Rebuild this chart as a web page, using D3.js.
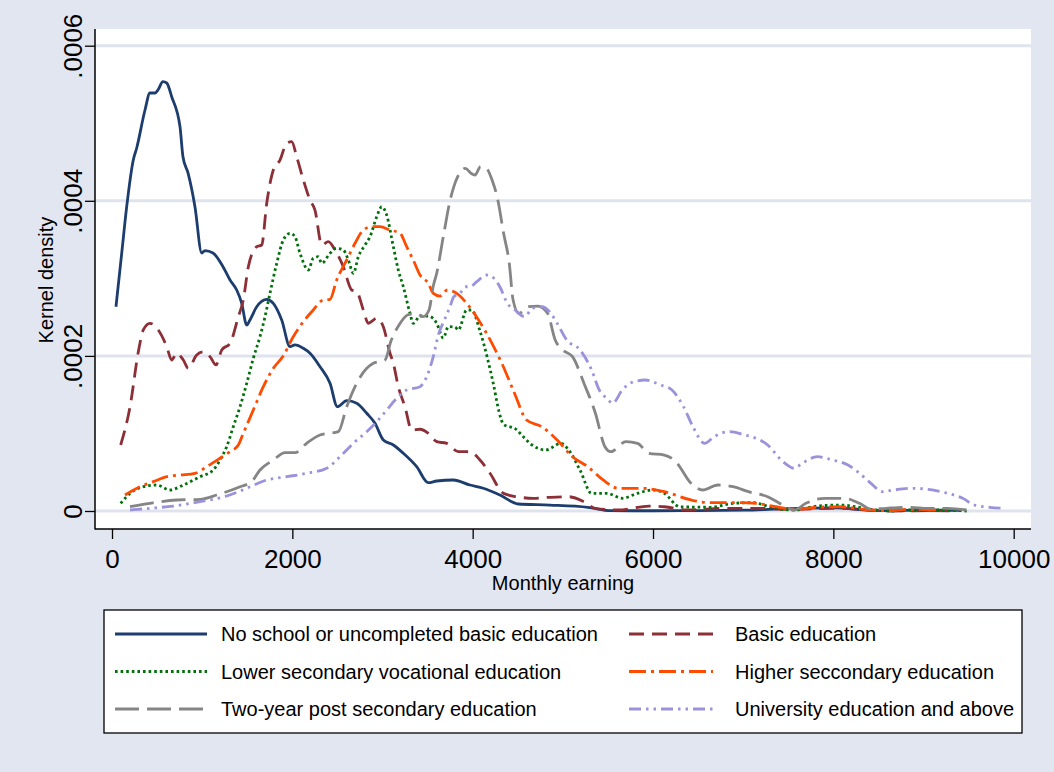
<!DOCTYPE html>
<html><head><meta charset="utf-8">
<script src="https://cdn.jsdelivr.net/npm/d3@7"></script>
<style>html,body{margin:0;padding:0;background:#e2e6f0;}svg{display:block;}</style>
</head><body>
<svg id="c" width="1054" height="772"></svg>
<script>
const xTicks = [0, 2000, 4000, 6000, 8000, 10000];
const xTickLabels = ["0", "2000", "4000", "6000", "8000", "10000"];
const yTicks = [0, 0.0002, 0.0004, 0.0006];
const yTickLabels = ["0", ".0002", ".0004", ".0006"];
const seriesNames = [
  "No school or uncompleted basic education",
  "Basic education",
  "Lower secondary vocational education",
  "Higher seccondary education",
  "Two-year post secondary education",
  "University education and above"
];

const noSchoolX = [44,108,163,236,274,366,421,477,510,565,607,662,754,787,843,920,995,1031,1120,1231,1309,1383,1438,1494,1530,1605,1716,1789,1882,1974,2029,2122,2196,2307,2418,2499,2603,2714,2825,2917,3009,3120,3231,3379,3508,3601,3785,3970,4118,4303,4506,4857,5277,5531,6000,6500,7000,7500,8000,8500,9000,9420];
const noSchoolY = [0.0002634,0.0003327,0.0003924,0.0004526,0.0004681,0.0005171,0.000539,0.000539,0.0005429,0.0005536,0.0005519,0.0005342,0.0004956,0.0004569,0.0004359,0.0003924,0.0003327,0.0003357,0.0003327,0.000315,0.0002979,0.000285,0.0002682,0.0002398,0.0002463,0.0002634,0.000273,0.0002678,0.0002463,0.0002119,0.0002141,0.0002098,0.0002034,0.0001861,0.0001647,0.0001345,0.0001422,0.0001389,0.000126,0.0001131,0.0000916,0.0000851,0.0000744,0.0000571,0.0000365,0.0000387,0.00004,0.0000335,0.0000293,0.0000206,0.000009,0.0000077,0.0000048,0.0000004,0.0000003,0.0000005,0.000001,0.000003,0.000004,0.0000005,0.000001,0.000001];

const basicX = [96,200,292,347,421,513,607,662,718,791,846,939,1013,1087,1153,1217,1309,1401,1456,1512,1605,1660,1716,1789,1863,1937,1993,2048,2122,2196,2251,2326,2399,2473,2565,2658,2714,2787,2842,2936,3009,3083,3120,3175,3249,3324,3416,3508,3601,3712,3840,3970,4081,4192,4340,4488,4672,4857,5064,5234,5361,5616,5955,6125,6380,6804,7142,7568,7992,8417,8628,9054,9300];
const basicY = [0.0000851,0.0001345,0.0002054,0.0002334,0.000242,0.0002334,0.0002119,0.0001947,0.0002034,0.0001947,0.000184,0.0002012,0.0002054,0.000199,0.0001883,0.0002076,0.0002162,0.0002506,0.0002721,0.000315,0.0003408,0.000343,0.0003968,0.0004397,0.0004526,0.0004741,0.0004763,0.0004569,0.0004268,0.000401,0.0003881,0.000343,0.0003473,0.0003366,0.000315,0.000285,0.0002828,0.0002592,0.000242,0.0002485,0.0002377,0.0002034,0.0001905,0.0001603,0.0001345,0.0001044,0.0001054,0.0001002,0.0000894,0.0000873,0.0000765,0.0000765,0.0000658,0.0000486,0.0000228,0.0000184,0.0000164,0.0000177,0.0000184,0.000012,0.0000035,0.0000013,0.0000064,0.0000055,0.0000013,0.0000035,0.0000035,0.0000022,0.0000035,0.0000013,0,0.0000004,0.0000002];

const vocX = [96,200,347,496,643,791,976,1123,1198,1272,1345,1420,1494,1567,1641,1697,1752,1827,1900,1974,2029,2085,2177,2232,2288,2326,2418,2492,2565,2621,2677,2732,2806,2861,2936,2991,3046,3120,3175,3231,3305,3341,3416,3508,3601,3674,3730,3804,3840,3934,3989,4081,4164,4232,4292,4342,4480,4561,4658,4813,4979,5064,5190,5319,5488,5658,5828,5997,6125,6295,6634,6889,7101,7356,7568,7823,8078,8248,8417,8628,8841,9180,9478];
const vocY = [0.0000099,0.0000228,0.0000313,0.0000335,0.0000271,0.0000335,0.0000442,0.0000529,0.0000658,0.0000829,0.0001087,0.0001345,0.0001647,0.0001969,0.0002248,0.0002506,0.0002807,0.0003194,0.0003495,0.0003581,0.0003537,0.0003323,0.0003108,0.0003259,0.0003279,0.0003194,0.0003323,0.0003387,0.0003366,0.0003237,0.0003065,0.0003279,0.000343,0.0003537,0.0003795,0.0003924,0.0003817,0.0003408,0.0003108,0.0002892,0.0002549,0.000242,0.0002514,0.0002514,0.000242,0.0002231,0.0002377,0.0002373,0.0002334,0.0002592,0.0002592,0.0002321,0.0001969,0.0001625,0.000128,0.0001118,0.0001054,0.0000958,0.0000851,0.0000787,0.0000873,0.0000787,0.0000529,0.0000228,0.0000228,0.0000164,0.0000228,0.0000271,0.0000228,0.0000055,0.0000048,0.0000099,0.0000107,0.0000035,0.0000013,0.0000064,0.0000077,0.0000055,0.0000022,0,0.0000013,0.0000013,0];

const higherX = [144,311,458,607,754,920,1050,1198,1309,1401,1456,1567,1678,1789,1900,2002,2122,2232,2343,2418,2492,2603,2695,2787,2880,2972,3083,3194,3268,3341,3416,3508,3563,3638,3721,3823,3934,4065,4214,4323,4458,4598,4766,4937,5107,5277,5446,5616,5871,6125,6422,6634,6974,7144,7356,7568,7823,8078,8333,8588,8841,9180];
const higherY = [0.0000206,0.0000313,0.0000378,0.0000442,0.0000464,0.0000486,0.0000571,0.000068,0.0000765,0.0000851,0.0001002,0.0001302,0.0001603,0.000184,0.0002001,0.0002231,0.0002441,0.0002592,0.0002721,0.000273,0.0002979,0.0003237,0.0003452,0.0003623,0.0003666,0.0003666,0.0003623,0.0003581,0.0003408,0.0003237,0.0003043,0.0002936,0.0002807,0.0002772,0.000285,0.0002807,0.0002678,0.0002463,0.0002162,0.0001905,0.0001535,0.0001173,0.0001087,0.0000916,0.00007,0.0000571,0.00004,0.0000293,0.0000293,0.0000249,0.0000142,0.0000107,0.0000107,0.0000099,0.0000055,0.0000022,0.0000048,0.0000055,0.0000022,0.0000004,0.0000022,0.0000013];

const twoYearX = [200,421,718,976,1161,1420,1549,1641,1789,1919,2029,2159,2307,2510,2603,2714,2825,2898,3028,3094,3183,3277,3369,3452,3516,3563,3601,3674,3748,3791,3834,3918,3981,4025,4088,4152,4215,4279,4343,4406,4448,4512,4619,4724,4831,4915,5000,5107,5234,5361,5467,5531,5700,5828,5955,6125,6253,6422,6550,6720,6889,7059,7271,7441,7568,7695,7907,8120,8290,8417,8588,8841,9054,9266,9478];
const twoYearY = [0.0000055,0.0000099,0.0000142,0.0000151,0.0000206,0.0000313,0.0000378,0.0000529,0.0000658,0.0000752,0.0000752,0.0000873,0.000098,0.0001023,0.0001345,0.0001647,0.000184,0.0001905,0.0001947,0.0002192,0.0002398,0.0002527,0.0002549,0.0002506,0.0002592,0.0002901,0.0003065,0.0003537,0.0003997,0.0004182,0.0004311,0.0004419,0.0004355,0.0004333,0.000444,0.0004419,0.0004268,0.000401,0.0003581,0.0003194,0.0002721,0.0002549,0.0002634,0.0002643,0.0002549,0.0002205,0.0002076,0.000199,0.0001647,0.000126,0.0000829,0.0000765,0.0000894,0.0000873,0.0000744,0.0000722,0.0000636,0.0000357,0.0000271,0.0000335,0.0000313,0.0000249,0.0000184,0.0000077,0.0000013,0.0000099,0.0000164,0.0000164,0.0000099,0.0000022,0.0000035,0.0000048,0.0000035,0.0000035,0.0000013];

const univX = [200,421,680,976,1272,1494,1716,1937,2159,2381,2529,2676,2825,2936,3046,3157,3268,3416,3490,3563,3619,3687,3748,3791,3860,3918,3970,4046,4152,4236,4301,4385,4470,4576,4661,4766,4852,4937,5043,5191,5319,5404,5488,5552,5658,5786,5913,6083,6210,6338,6443,6571,6677,6847,7017,7144,7271,7441,7568,7653,7823,7992,8162,8290,8417,8545,8672,8884,9097,9266,9435,9563,9733,9903];
const univY = [0.0000013,0.0000035,0.0000064,0.000012,0.0000193,0.0000293,0.00004,0.0000442,0.0000486,0.0000551,0.00007,0.0000873,0.0001023,0.0001152,0.0001302,0.0001453,0.000156,0.0001603,0.0001732,0.000199,0.000227,0.0002463,0.0002634,0.0002763,0.0002807,0.0002892,0.0002892,0.0002957,0.0003043,0.0003001,0.0002892,0.0002678,0.0002592,0.0002506,0.0002614,0.0002634,0.000257,0.000242,0.0002205,0.0002076,0.0001818,0.000156,0.0001453,0.0001389,0.000156,0.0001667,0.0001689,0.0001625,0.000156,0.0001345,0.0001087,0.0000873,0.0000958,0.0001023,0.000098,0.0000937,0.0000851,0.0000636,0.0000551,0.0000615,0.00007,0.0000658,0.0000593,0.0000486,0.0000357,0.0000249,0.0000271,0.0000293,0.0000271,0.0000228,0.0000164,0.0000077,0.0000048,0.0000035];

const seriesX = [noSchoolX, basicX, vocX, higherX, twoYearX, univX];
const seriesY = [noSchoolY, basicY, vocY, higherY, twoYearY, univY];
const colors = ["#1c3d6e", "#8c2f37", "#00700a", "#ff4b00", "#858585", "#9a93dc"];
const dashes = ["none", "15,8", "2.6,3", "17,5,3,5", "24,8", "12,5,2.5,5,2.5,5"];

const FONT = "'Liberation Sans', Arial, Helvetica, sans-serif";
const svg = d3.select("#c");
const plot = {left: 95, right: 1031, top: 29, bottom: 529};

svg.append("rect").attr("x",0).attr("y",0).attr("width",1054).attr("height",772).attr("fill","#e2e6f0");
svg.append("rect").attr("x",plot.left).attr("y",plot.top).attr("width",plot.right-plot.left).attr("height",plot.bottom-plot.top).attr("fill","#ffffff");

const x = d3.scaleLinear().domain([0, 10000]).range([112, 1013.7]);
const y = d3.scaleLinear().domain([0, 0.0006]).range([511, 45.7]);

// gridlines
svg.append("g").selectAll("line").data(yTicks).join("line")
  .attr("x1", plot.left).attr("x2", plot.right)
  .attr("y1", d => y(d)).attr("y2", d => y(d))
  .attr("stroke", "#dfe3ee").attr("stroke-width", 3);

// clip
svg.append("clipPath").attr("id","clip").append("rect")
  .attr("x",plot.left).attr("y",plot.top).attr("width",plot.right-plot.left).attr("height",plot.bottom-plot.top);

const line = d3.line().x(d => x(d[0])).y(d => y(d[1])).curve(d3.curveMonotoneX);
const gLines = svg.append("g").attr("clip-path","url(#clip)");
seriesX.forEach((xs, i) => {
  const pts = xs.map((v, j) => [v, seriesY[i][j]]);
  gLines.append("path").datum(pts).attr("d", line)
    .attr("fill","none").attr("stroke", colors[i]).attr("stroke-width", 2.8)
    .attr("stroke-dasharray", dashes[i]).attr("stroke-linejoin","round");
});

// axes
const yAxis = d3.axisLeft(y).tickValues(yTicks).tickFormat((d,i) => yTickLabels[i]).tickSize(10).tickSizeOuter(0);
const gy = svg.append("g").attr("transform", `translate(${plot.left},0)`).call(yAxis);
gy.select(".domain").remove();
gy.selectAll(".tick line").attr("stroke","#000").attr("stroke-width",1.3);
gy.selectAll(".tick text").attr("transform","rotate(-90)").attr("x",0).attr("y",-13).attr("dy",0)
  .attr("text-anchor","middle").attr("font-family",FONT).attr("font-size",26).attr("fill","#000");

const xAxis = d3.axisBottom(x).tickValues(xTicks).tickFormat((d,i) => xTickLabels[i]).tickSize(10).tickSizeOuter(0);
const gx = svg.append("g").attr("transform", `translate(0,${plot.bottom})`).call(xAxis);
gx.select(".domain").remove();
gx.selectAll(".tick line").attr("stroke","#000").attr("stroke-width",1.3);
gx.selectAll(".tick text").attr("y",21).attr("dy","0.71em").attr("font-family",FONT).attr("font-size",26).attr("fill","#000");

svg.append("line").attr("x1",plot.left).attr("x2",plot.left).attr("y1",plot.top).attr("y2",plot.bottom+0.5).attr("stroke","#000").attr("stroke-width",1.5);
svg.append("line").attr("x1",plot.left).attr("x2",plot.right).attr("y1",plot.bottom).attr("y2",plot.bottom).attr("stroke","#000").attr("stroke-width",1.5);

// axis titles
svg.append("text").attr("x",563).attr("y",590).attr("text-anchor","middle")
  .attr("font-family",FONT).attr("font-size",20).text("Monthly earning");
svg.append("text").attr("transform","translate(53,280) rotate(-90)").attr("text-anchor","middle")
  .attr("font-family",FONT).attr("font-size",20).text("Kernel density");

// legend
const lg = svg.append("g");
lg.append("rect").attr("x",104).attr("y",610).attr("width",918).attr("height",123)
  .attr("fill","#fff").attr("stroke","#000").attr("stroke-width",1.3);
const rowsY = [634, 671.5, 709];
seriesNames.forEach((name, i) => {
  const col = i % 2, row = Math.floor(i / 2);
  const x0 = col === 0 ? 115 : 629, x1 = col === 0 ? 207 : 713, tx = col === 0 ? 221 : 735;
  const yy = rowsY[row];
  lg.append("line").attr("x1",x0).attr("x2",x1).attr("y1",yy).attr("y2",yy)
    .attr("stroke",colors[i]).attr("stroke-width",2.8).attr("stroke-dasharray",dashes[i]);
  lg.append("text").attr("x",tx).attr("y",yy+7).attr("font-family",FONT).attr("font-size",20).text(name);
});
</script>
</body></html>
